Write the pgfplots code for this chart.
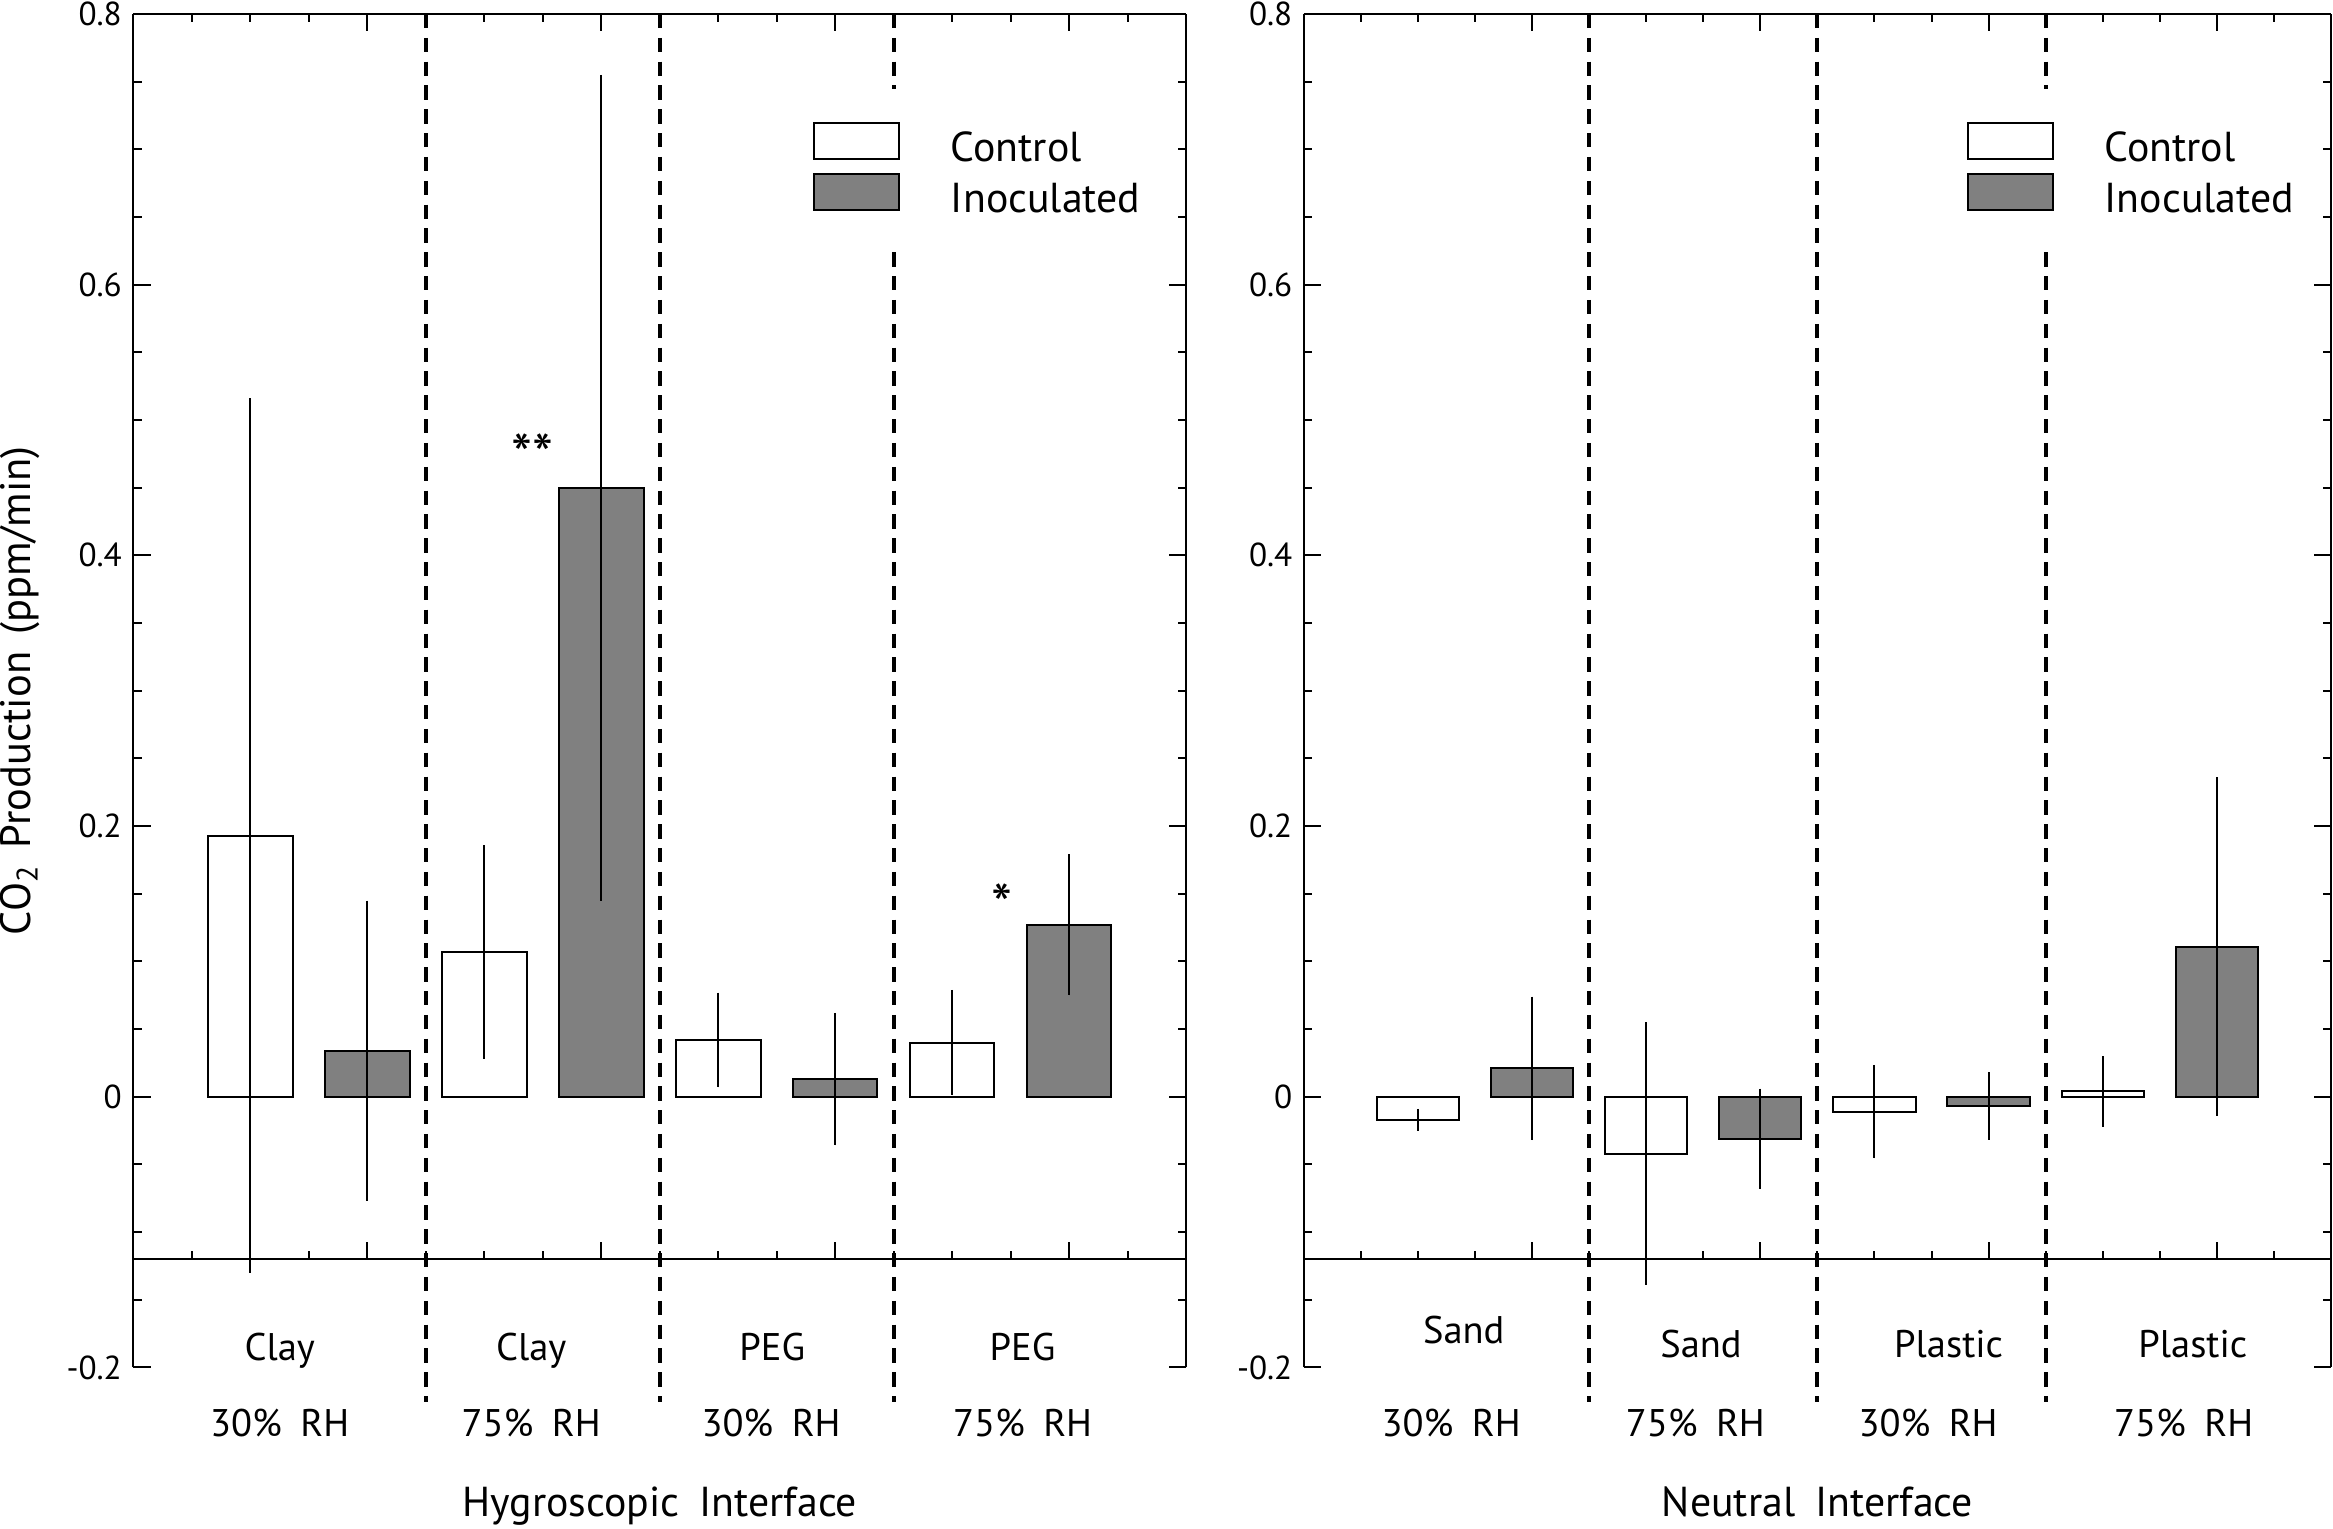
\documentclass[border=0pt]{standalone}
\usepackage{fontspec}
\setmainfont{PT Sans}
\usepackage{pgfplots}
\pgfplotsset{compat=1.18}
\definecolor{barg}{HTML}{808080}
\newcommand\catfont{\fontsize{11.6}{13}\selectfont}
\newcommand\labfont{\fontsize{12.6}{14}\selectfont}
\newcommand\starfont{\fontsize{18}{20}\selectfont}
\newcommand\gap{\hspace{0.48em}}

\pgfplotsset{
  common/.style={
    scale only axis, anchor=south west,
    xmin=0, xmax=9,
    xtick={2,4,6,8}, xticklabels={}, minor xtick={0.5,1,...,8.5},
    tick align=inside, major tick length=5.2bp, minor tick length=2.5bp,
    tick style={black, line width=0.6bp},
    axis line style={-, line width=0.6bp, black},
    every outer x axis line/.append style={-},
    every outer y axis line/.append style={-},
    clip=false,
  },
  panel/.style={
    common,
    ymin=-0.2, ymax=0.8,
    axis x line*=top, axis y line*=box,
    ytick={-0.2,0,0.2,0.4,0.6,0.8},
    yticklabels={-0.2,0,0.2,0.4,0.6,0.8},
    minor ytick={-0.15,-0.1,-0.05,0.05,0.1,0.15,0.25,0.3,0.35,0.45,0.5,0.55,0.65,0.7,0.75},
    yticklabel style={font=\fontsize{10}{12}\selectfont, inner xsep=3.3bp},
    xlabel style={font=\labfont, anchor=base, at={(axis description cs:0.5,-0.1103)}},
    legend cell align=left,
    legend style={at={(rel axis cs:0.6448,0.9448)}, anchor=north west,
      draw=none, fill=white, inner xsep=0pt, inner ysep=7.6bp, row sep=-0.7bp,
      font=\fontsize{12.6}{15}\selectfont,
      nodes={inner sep=2pt, text height=12bp, text depth=0pt},
      /tikz/every odd column/.append style={column sep=13.3bp}},
  },
  base/.style={
    common,
    ymin=-0.12, ymax=0.8,
    axis x line*=bottom, axis y line=none,
  },
  sep/.style={black, line width=1.2bp, dash pattern=on 4.3bp off 2.85bp, forget plot},
  ctrl/.style={ybar, bar width=0.72, bar shift=0pt, fill=white, draw=black, line width=0.6bp,
    legend image code/.code={\draw[fill=white, draw=black, line width=0.6bp] (0bp,-5.4bp) rectangle (25.5bp,5.4bp);},
    error bars/.cd, y dir=both, y explicit, error mark=none,
    error bar style={line width=0.6bp, black}},
  inoc/.style={ybar, bar width=0.72, bar shift=0pt, fill=barg, draw=black, line width=0.6bp,
    legend image code/.code={\draw[fill=barg, draw=black, line width=0.6bp] (0bp,-5.4bp) rectangle (25.5bp,5.4bp);},
    error bars/.cd, y dir=both, y explicit, error mark=none,
    error bar style={line width=0.6bp, black}},
}

\begin{document}
\begin{tikzpicture}
% ---------------- left panel ----------------
\begin{axis}[base, at={(40.05bp,80.95bp)}, width=315.9bp, height=373.6bp]
\end{axis}
\begin{axis}[panel, at={(40.05bp,48.46bp)}, width=315.9bp, height=406.1bp,
  xlabel={Hygroscopic\gap Interface},
  ylabel={CO\textsubscript{2}\hspace{0.4em}Production\hspace{0.4em}(ppm/min)},
  ylabel style={font=\fontsize{12.8}{14}\selectfont, at={(axis description cs:-0.1081,0.5)}, anchor=center}]
\addplot[sep] coordinates {(2.5,0.8) (2.5,-0.2254)};
\addplot[sep] coordinates {(4.5,0.8) (4.5,-0.2254)};
\addplot[sep] coordinates {(6.5,0.8) (6.5,-0.2254)};
\addplot[ctrl] coordinates {(1,0.193) +- (0,0.323) (3,0.107) +- (0,0.079) (5,0.042) +- (0,0.035) (7,0.040) +- (0,0.039)};
\addplot[inoc] coordinates {(2,0.034) +- (0,0.111) (4,0.450) +- (0,0.305) (6,0.013) +- (0,0.049) (8,0.127) +- (0,0.052)};
\legend{Control,Inoculated}
\node[anchor=base, font=\starfont, inner sep=0pt] at (axis cs:3.41,0.458) {**};
\node[anchor=base, font=\starfont, inner sep=0pt] at (axis cs:7.42,0.126) {*};
\node[anchor=base, font=\catfont] at (axis cs:1.25,-0.1948) {Clay};
\node[anchor=base, font=\catfont] at (axis cs:3.40,-0.1948) {Clay};
\node[anchor=base, font=\catfont] at (axis cs:5.46,-0.1948) {PEG};
\node[anchor=base, font=\catfont] at (axis cs:7.60,-0.1948) {PEG};
\node[anchor=base, font=\catfont] at (axis cs:1.25,-0.2507) {30\%\gap RH};
\node[anchor=base, font=\catfont] at (axis cs:3.40,-0.2507) {75\%\gap RH};
\node[anchor=base, font=\catfont] at (axis cs:5.45,-0.2507) {30\%\gap RH};
\node[anchor=base, font=\catfont] at (axis cs:7.60,-0.2507) {75\%\gap RH};
\end{axis}
% ---------------- right panel ----------------
\begin{axis}[base, at={(391.25bp,80.95bp)}, width=308.1bp, height=373.6bp]
\end{axis}
\begin{axis}[panel, at={(391.25bp,48.46bp)}, width=308.1bp, height=406.1bp,
  xlabel={Neutral\gap Interface}]
\addplot[sep] coordinates {(2.5,0.8) (2.5,-0.2254)};
\addplot[sep] coordinates {(4.5,0.8) (4.5,-0.2254)};
\addplot[sep] coordinates {(6.5,0.8) (6.5,-0.2254)};
\addplot[ctrl] coordinates {(1,-0.017) +- (0,0.008) (3,-0.042) +- (0,0.097) (5,-0.011) +- (0,0.0345) (7,0.004) +- (0,0.026)};
\addplot[inoc] coordinates {(2,0.021) +- (0,0.053) (4,-0.031) +- (0,0.037) (6,-0.0066) +- (0,0.025) (8,0.111) +- (0,0.125)};
\legend{Control,Inoculated}
\node[anchor=base, font=\catfont] at (axis cs:1.40,-0.1825) {Sand};
\node[anchor=base, font=\catfont] at (axis cs:3.48,-0.193) {Sand};
\node[anchor=base, font=\catfont] at (axis cs:5.65,-0.193) {Plastic};
\node[anchor=base, font=\catfont] at (axis cs:7.79,-0.193) {Plastic};
\node[anchor=base, font=\catfont] at (axis cs:1.29,-0.2507) {30\%\gap RH};
\node[anchor=base, font=\catfont] at (axis cs:3.43,-0.2507) {75\%\gap RH};
\node[anchor=base, font=\catfont] at (axis cs:5.47,-0.2507) {30\%\gap RH};
\node[anchor=base, font=\catfont] at (axis cs:7.71,-0.2507) {75\%\gap RH};
\end{axis}
\pgfresetboundingbox
\path[use as bounding box] (0,0) rectangle (700bp,458.76bp);
\end{tikzpicture}
\end{document}
